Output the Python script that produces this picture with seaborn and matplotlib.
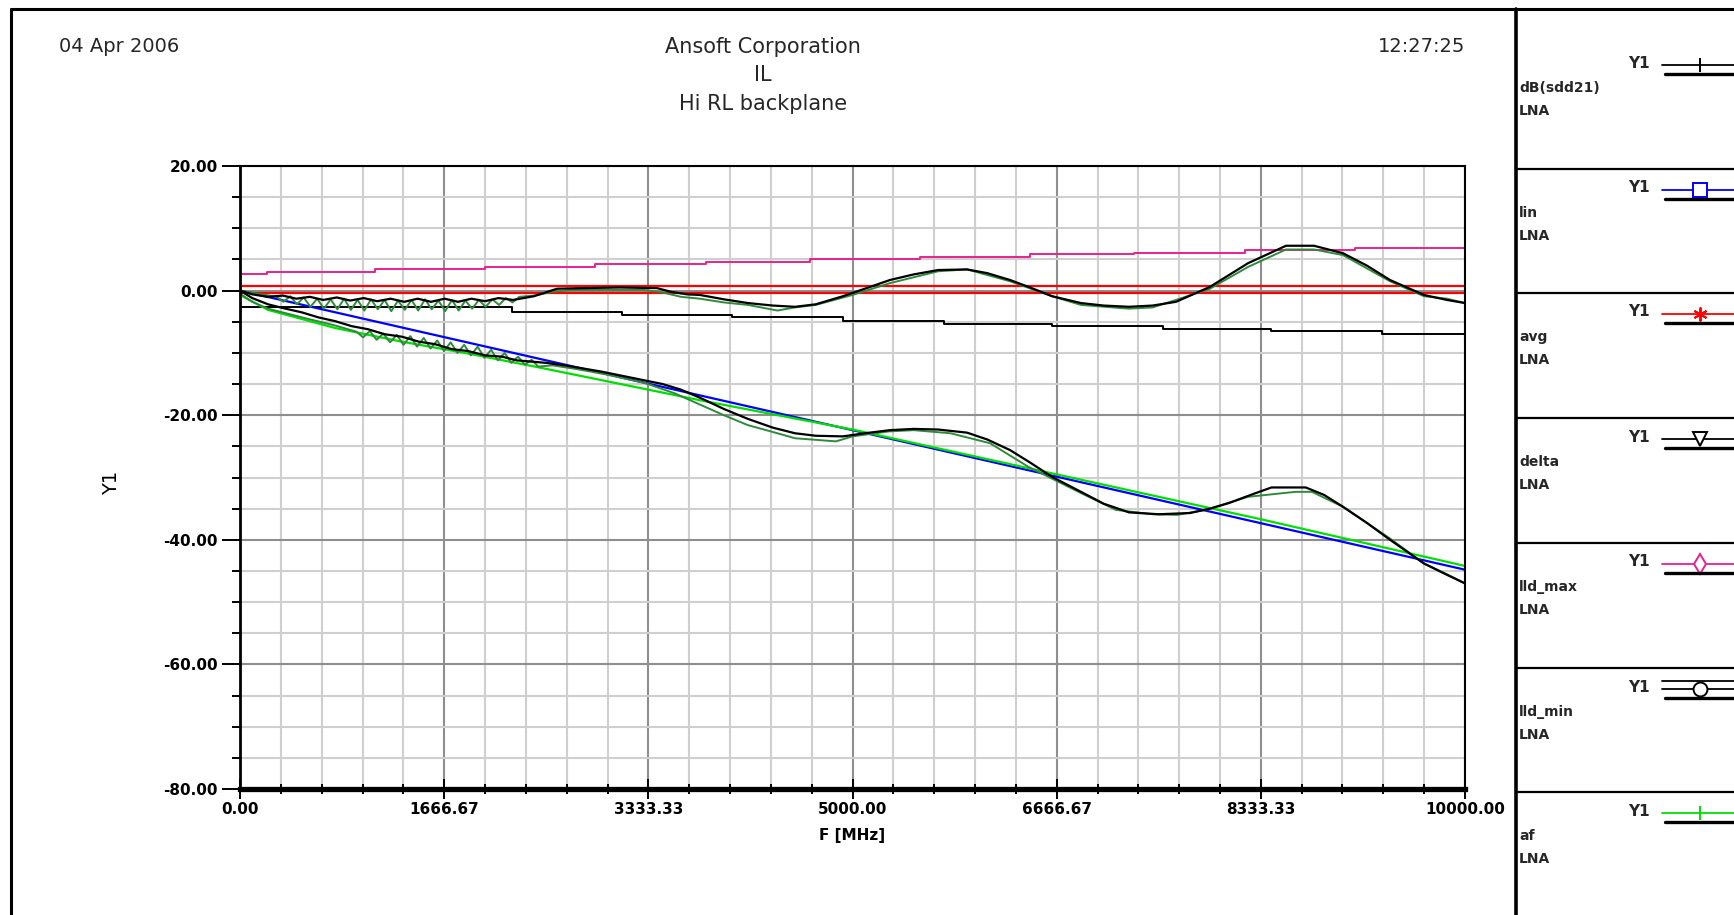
import matplotlib
matplotlib.use('Agg')
import matplotlib.pyplot as plt
from matplotlib.ticker import FixedLocator, MultipleLocator, FormatStrFormatter
import seaborn as sns

# ---- values (F in MHz, Y1 in dB) ----

# limit lines (stepped)
lld_max_f = [0, 220, 1100, 2000, 2900, 3800, 4650, 5550, 6450, 7300, 8200, 9100, 10000]
lld_max = [2.7, 3.0, 3.4, 3.8, 4.2, 4.6, 5.0, 5.4, 5.8, 6.1, 6.5, 6.9, 6.9]
lld_min_f = [0, 2220, 3120, 4020, 4920, 5750, 6630, 7535, 8416, 9322, 10000]
lld_min = [-2.7, -3.4, -3.9, -4.3, -4.8, -5.3, -5.7, -6.1, -6.5, -6.9, -6.9]

# avg band
avg_f = [0, 10000]
avg_hi = [0.7, 0.7]
avg_lo = [-0.4, -0.4]

# linear fit and af fit
lin_f = [0, 10000]
lin = [0.0, -44.8]
af_f = [0, 229, 776, 1322, 1861, 2408, 3333, 3755, 5000, 6667, 8333, 10000]
af = [-0.7, -3.1, -6.0, -8.2, -10.1, -12.2, -15.9, -17.6, -22.3, -29.5, -36.7, -44.2]

# dB(sdd21)
sdd21_f = [0, 100, 229, 350, 506, 640, 776, 910, 1045, 1180, 1322, 1460, 1592, 1730,
           1861, 2000, 2139, 2260, 2380, 2500, 2650, 2950, 3250, 3450, 3600, 3755,
           3950, 4147, 4350, 4531, 4700, 4922, 5100, 5306, 5500, 5698, 5935, 6100,
           6286, 6450, 6629, 6865, 7050, 7257, 7500, 7755, 7918, 8073, 8250, 8420,
           8700, 8850, 9004, 9200, 9388, 9665, 9850, 10000]
sdd21 = [0.0, -1.2, -2.2, -2.8, -3.5, -4.3, -4.9, -5.7, -6.2, -7.0, -7.4, -8.2, -8.6, -9.4,
         -9.7, -10.4, -10.6, -11.2, -11.4, -11.6, -12.0, -13.0, -14.2, -15.0, -15.9, -17.2,
         -19.0, -20.6, -22.0, -22.9, -23.3, -23.4, -22.9, -22.4, -22.2, -22.3, -22.8, -23.9,
         -25.6, -27.6, -29.9, -32.3, -34.2, -35.6, -35.9, -35.7, -35.0, -34.1, -32.8, -31.6,
         -31.6, -32.8, -34.7, -37.3, -40.0, -43.8, -45.6, -47.0]

# delta
delta_f = [0, 100, 229, 350, 460, 570, 680, 790, 900, 1010, 1120, 1230, 1340, 1450,
           1560, 1670, 1780, 1890, 2000, 2110, 2229, 2400, 2588, 2800, 3100, 3404, 3520,
           3649, 3755, 3950, 4147, 4350, 4531, 4700, 4922, 5100, 5306, 5500, 5698, 5935,
           6100, 6286, 6450, 6629, 6865, 7050, 7257, 7450, 7641, 7918, 8229, 8539, 8767,
           9004, 9200, 9388, 9665, 9853, 10000]
delta = [0.0, -0.6, -1.0, -0.8, -1.3, -1.0, -1.5, -1.1, -1.6, -1.2, -1.7, -1.3, -1.8, -1.3,
         -1.8, -1.3, -1.8, -1.3, -1.7, -1.2, -1.5, -0.9, 0.3, 0.4, 0.5, 0.4, -0.2,
         -0.6, -0.7, -1.4, -2.0, -2.4, -2.6, -2.2, -0.9, 0.3, 1.7, 2.6, 3.3, 3.4,
         2.8, 1.7, 0.5, -0.9, -2.0, -2.4, -2.6, -2.4, -1.8, 0.6, 4.4, 7.2, 7.2,
         6.0, 4.0, 1.7, -0.7, -1.5, -2.0]

# dark green traces (raw measurement, ripple at low F)
sdd21_raw_f = [0, 100, 229, 506, 776, 950, 1005, 1060, 1115, 1170, 1225, 1280, 1335, 1390,
               1445, 1500, 1555, 1610, 1665, 1720, 1775, 1830, 1885, 1940, 1995, 2050, 2105,
               2160, 2215, 2270, 2325, 2380, 2435, 2550, 2750, 3000, 3300, 3550, 3755, 3950,
               4147, 4387, 4531, 4865, 5000, 5300, 5500, 5800, 6123, 6437, 6865, 7150, 7450,
               7650, 7882, 8229, 8617, 8750, 9004, 9388, 9665, 9850, 10000]
sdd21_raw = [-0.5, -1.8, -2.9, -4.3, -5.6, -6.6, -7.5, -6.5, -7.9, -6.9, -8.3, -7.1, -8.7, -7.3,
             -9.0, -7.6, -9.3, -8.0, -9.7, -8.3, -10.0, -8.7, -10.4, -9.0, -10.8, -9.5, -11.2,
             -10.0, -11.6, -10.6, -11.9, -11.1, -12.2, -12.0, -12.6, -13.5, -14.8, -16.5, -18.3, -20.0,
             -21.6, -22.9, -23.7, -24.2, -23.4, -22.6, -22.4, -22.9, -24.5, -28.3, -32.5, -35.2, -35.9,
             -36.0, -35.2, -33.1, -32.3, -32.3, -34.7, -39.8, -43.8, -45.5, -47.0]
delta_raw_f = [0, 150, 300, 355, 410, 465, 520, 575, 630, 685, 740, 795, 850, 905, 960,
               1015, 1070, 1125, 1180, 1235, 1290, 1345, 1400, 1455, 1510, 1565, 1620, 1675,
               1730, 1785, 1840, 1895, 1950, 2005, 2060, 2115, 2170, 2225, 2280, 2400, 2550,
               2700, 3000, 3300, 3450, 3600, 3755, 3950, 4147, 4387, 4531, 4700, 5000, 5306,
               5698, 5935, 6286, 6629, 6865, 7257, 7450, 7641, 7918, 8229, 8539, 8767, 9004,
               9388, 9665, 9853, 10000]
delta_raw = [0.0, -0.5, -1.0, -1.8, -0.9, -2.2, -1.1, -2.6, -1.3, -2.9, -1.4, -3.0, -1.3, -3.1, -1.5,
             -3.2, -1.4, -3.0, -1.5, -3.3, -1.6, -3.1, -1.5, -3.2, -1.4, -3.0, -1.6, -3.3,
             -1.5, -3.2, -1.6, -2.9, -1.5, -2.6, -1.4, -2.3, -1.2, -1.9, -1.0, -0.8, -0.2,
             0.1, 0.1, 0.1, -0.3, -1.0, -1.3, -1.9, -2.3, -3.2, -2.7, -2.3, -0.7, 1.2,
             3.1, 3.4, 1.5, -0.9, -2.3, -2.9, -2.7, -1.5, 0.3, 3.8, 6.6, 6.6, 5.7,
             1.5, -0.9, -1.3, -2.0]

x_ticks = [0, 1666.67, 3333.33, 5000, 6666.67, 8333.33, 10000]
x_tick_labels = ['0.00', '1666.67', '3333.33', '5000.00', '6666.67', '8333.33', '10000.00']

legend_names = ['dB(sdd21)', 'lin', 'avg', 'delta', 'lld_max', 'lld_min', 'af']

# ---- styling ----
sns.set_theme(style='white')
plt.rcParams['font.family'] = ['DejaVu Sans']

BLACK = '#000000'
BLUE = '#0000ff'
RED = '#ff0000'
PINK = '#e8228c'
GREEN = '#00e000'
DKGREEN = '#2f8a3c'

W, H = 1734, 915
fig = plt.figure(figsize=(W / 100, H / 100), dpi=100)

# background layer in pixel coordinates: page frame, header and legend panel
bg = fig.add_axes([0, 0, 1, 1])
bg.set_autoscale_on(False)
bg.set_xlim(0, W)
bg.set_ylim(H, 0)
bg.axis('off')

bg.plot([11, 11], [9, H], color=BLACK, lw=2.2)
bg.plot([11, W], [9, 9], color=BLACK, lw=2.2)
bg.plot([1516, 1516], [9, H], color=BLACK, lw=2.6)
for y in [169, 293, 418, 543, 668, 792]:
    bg.plot([1516, W], [y, y], color=BLACK, lw=1.6)

bg.text(59, 47, '04 Apr 2006', ha='left', va='center', fontsize=14)
bg.text(1465, 47, '12:27:25', ha='right', va='center', fontsize=14)
bg.text(763, 47, 'Ansoft Corporation', ha='center', va='center', fontsize=15)
bg.text(763, 75, 'IL', ha='center', va='center', fontsize=15)
bg.text(763, 104, 'Hi RL backplane', ha='center', va='center', fontsize=15)

leg_colors = [BLACK, BLUE, RED, BLACK, PINK, BLACK, GREEN]
leg_markers = ['|', 's', (6, 2, 0), 'v', 'd', 'o', '|']
row_y = [63, 188, 312, 437, 562, 687, 811]
for name, c, m, y in zip(legend_names, leg_colors, leg_markers, row_y):
    bg.text(1650, y, 'Y1', ha='right', va='center', fontsize=11, fontweight='bold')
    if name == 'lld_min':
        bg.plot([1662, W], [y - 6, y - 6], color=BLACK, lw=1.3)
    bg.plot([1662, W], [y + 2, y + 2], color=c, lw=1.3)
    bg.plot([1700], [y + 2], marker=m, ms=10, mfc='white', mec=c, mew=1.4)
    bg.plot([1665, W], [y + 11, y + 11], color=BLACK, lw=2.4)
    bg.text(1519, y + 25, name, ha='left', va='center', fontsize=10, fontweight='bold')
    bg.text(1519, y + 48, 'LNA', ha='left', va='center', fontsize=10, fontweight='bold')

# main plot
ax = fig.add_axes([240 / W, 1 - 789 / H, 1225 / W, 623 / H])
ax.set_axisbelow(True)

sns.lineplot(x=avg_f, y=avg_hi, ax=ax, color=RED, lw=1.6, estimator=None)
sns.lineplot(x=avg_f, y=avg_lo, ax=ax, color=RED, lw=1.6, estimator=None)
sns.lineplot(x=lld_max_f, y=lld_max, ax=ax, color=PINK, lw=1.4, estimator=None,
             drawstyle='steps-post')
sns.lineplot(x=lld_min_f, y=lld_min, ax=ax, color=BLACK, lw=1.4, estimator=None,
             drawstyle='steps-post')
sns.lineplot(x=lin_f, y=lin, ax=ax, color=BLUE, lw=1.6, estimator=None)
sns.lineplot(x=af_f, y=af, ax=ax, color=GREEN, lw=1.6, estimator=None)
sns.lineplot(x=sdd21_raw_f, y=sdd21_raw, ax=ax, color=DKGREEN, lw=1.4, estimator=None)
sns.lineplot(x=delta_raw_f, y=delta_raw, ax=ax, color=DKGREEN, lw=1.4, estimator=None)
sns.lineplot(x=sdd21_f, y=sdd21, ax=ax, color=BLACK, lw=1.6, estimator=None)
sns.lineplot(x=delta_f, y=delta, ax=ax, color=BLACK, lw=1.6, estimator=None)

ax.set_xlim(0, 10000)
ax.set_ylim(-80, 20)
ax.xaxis.set_major_locator(FixedLocator(x_ticks))
ax.set_xticklabels(x_tick_labels)
ax.xaxis.set_minor_locator(MultipleLocator(10000 / 30))
ax.yaxis.set_major_locator(MultipleLocator(20))
ax.yaxis.set_major_formatter(FormatStrFormatter('%.2f'))
ax.yaxis.set_minor_locator(MultipleLocator(5))

ax.grid(True, which='minor', color='#cfcfcf', lw=1.5)
ax.grid(True, which='major', color='#8e8e8e', lw=1.5)

for side in ['top', 'right']:
    ax.spines[side].set_linewidth(1.5)
    ax.spines[side].set_color(BLACK)
ax.spines['left'].set_linewidth(2.0)
ax.spines['left'].set_color(BLACK)
ax.spines['bottom'].set_linewidth(3.8)
ax.spines['bottom'].set_color(BLACK)

ax.tick_params(axis='y', which='major', left=True, direction='out', length=13,
               width=1.4, color=BLACK, pad=3)
ax.tick_params(axis='y', which='minor', left=True, direction='out', length=6,
               width=1.4, color=BLACK)
ax.tick_params(axis='x', which='major', bottom=True, direction='inout', length=14,
               width=1.4, color=BLACK, pad=2)
ax.tick_params(axis='x', which='minor', bottom=True, direction='inout', length=7,
               width=1.4, color=BLACK)
for lab in ax.get_xticklabels() + ax.get_yticklabels():
    lab.set_fontsize(11)
    lab.set_fontweight('bold')
    lab.set_color(BLACK)

ax.set_xlabel('F [MHz]', fontsize=11, fontweight='bold', color=BLACK)
ax.xaxis.label.set_va('center')
ax.xaxis.set_label_coords(0.5, -0.074)
ax.set_ylabel('Y1', fontsize=14, color=BLACK)
ax.yaxis.label.set_va('center')
ax.yaxis.set_label_coords(-0.105, 0.491)

fig.savefig('out.png', dpi=100)
